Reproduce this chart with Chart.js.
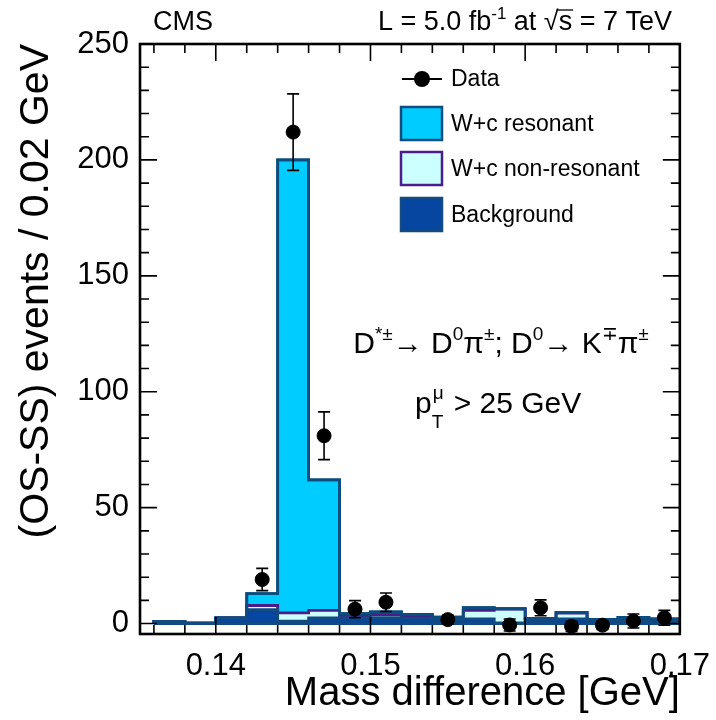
<!DOCTYPE html>
<html lang="en">
<head>
  <meta charset="UTF-8" />
  <title>D* mass difference, W+c</title>
  <script src="https://cdn.jsdelivr.net/npm/chart.js"></script>
  <style>
    body { margin: 0; background: #fff; }
    .wrap { width: 716px; height: 720px; }
  </style>
</head>
<body>
  <div class="wrap"><canvas id="massChart" width="716" height="720"></canvas></div>

  <script>
    // histogram binning (GeV)
    const binEdges = [0.136, 0.138, 0.140, 0.142, 0.144, 0.146, 0.148, 0.150, 0.152,
                      0.154, 0.156, 0.158, 0.160, 0.162, 0.164, 0.166, 0.168, 0.170];
    // stacked components, events per bin
    const background  = [0.8, 0.2, 2.4, 6.0, 1.0, 2.4, 2.4, 2.5, 2.3, 1.8, 2.0, 0.3, 1.8, 2.0, 1.5, 1.1, 1.6];
    const nonResonant = [0.0, 0.0, 0.0, 1.8, 3.6, 3.3, 0.7, 1.4, 0.7, 0.5, 3.7, 5.9, 0.2, 2.5, 0.2, 0.4, 0.2];
    const resonant    = [0.1, 0.0, 0.0, 5.1, 195.4, 56.3, 1.2, 1.1, 1.0, 0.5, 1.2, 0.2, 0.2, 0.3, 0.1, 1.2, 0.2];

    // data points with errors
    const dataX   = [0.143, 0.145, 0.147, 0.149, 0.151, 0.155, 0.159, 0.161, 0.163, 0.165, 0.167, 0.169];
    const dataY   = [19, 212, 81, 6.2, 9.2, 1.7, -0.6, 6.8, -1.2, -0.7, 1.1, 2.5];
    const dataErr = [4.8, 16.5, 10.3, 3.7, 4.0, 2.0, 2.6, 3.4, 2.2, 1.8, 3.0, 3.2];

    // axes
    const xTicks = [0.14, 0.15, 0.16, 0.17];
    const xMinorTicks = [0.136, 0.138, 0.142, 0.144, 0.146, 0.148, 0.152, 0.154, 0.156, 0.158,
                         0.162, 0.164, 0.166, 0.168];
    const yTicks = [0, 50, 100, 150, 200, 250];
    const yMinorTicks = [10, 20, 30, 40, 60, 70, 80, 90, 110, 120, 130, 140, 160, 170, 180, 190,
                         210, 220, 230, 240];
    const legendLabels = ['Data', 'W+c resonant', 'W+c non-resonant', 'Background'];

    const FONT = '"Liberation Sans", Arial, Helvetica, sans-serif';
    const col = {
      res: '#00ccff', resLine: '#0b4d7e',
      non: '#ccffff', nonLine: '#4b1d8a',
      bkg: '#0645a0', bkgLine: '#134a7f'
    };

    const cumNon = background.map((b, i) => b + nonResonant[i]);
    const cumAll = cumNon.map((c, i) => c + resonant[i]);

    // step outline from the bin edges, closed down to zero at both ends
    function stepPoints(values) {
      const last = binEdges.length - 1;
      const pts = [{ x: binEdges[0], y: 0 }];
      values.forEach((v, i) => pts.push({ x: binEdges[i], y: v }));
      pts.push({ x: binEdges[last], y: values[values.length - 1] });
      pts.push({ x: binEdges[last], y: 0 });
      return pts;
    }

    function histSet(label, values, fillColor, lineColor) {
      return {
        label: label,
        data: stepPoints(values),
        stepped: true,
        fill: fillColor ? 'origin' : false,
        backgroundColor: fillColor || 'transparent',
        borderColor: lineColor,
        borderWidth: 2.8,
        pointRadius: 0,
        tension: 0
      };
    }

    // text with super/subscripts: parts = [[text, 'sup'|'sub'|null], ...]
    function richWidth(ctx, parts, size) {
      let w = 0;
      parts.forEach(([t, m]) => {
        ctx.font = (m ? Math.round(size * 0.62) : size) + 'px ' + FONT;
        w += ctx.measureText(t).width;
      });
      return w;
    }
    function drawRich(ctx, parts, x, y, size) {
      parts.forEach(([t, m]) => {
        const s = m ? Math.round(size * 0.62) : size;
        ctx.font = s + 'px ' + FONT;
        const dy = m === 'sup' ? -size * 0.42 : (m === 'sub' ? size * 0.28 : 0);
        ctx.fillText(t, x, y + dy);
        x += ctx.measureText(t).width;
      });
      return x;
    }

    const rootStyle = {
      id: 'rootStyle',
      beforeDatasetDraw(chart, args) {
        if (args.index !== 0) return;
        const { ctx, scales: { x, y } } = chart;
        ctx.save();
        ctx.strokeStyle = '#000';
        ctx.lineWidth = 1.6;
        dataX.forEach((v, i) => {
          const px = x.getPixelForValue(v);
          const top = y.getPixelForValue(dataY[i] + dataErr[i]);
          const bot = y.getPixelForValue(dataY[i] - dataErr[i]);
          ctx.beginPath();
          ctx.moveTo(px, top); ctx.lineTo(px, bot);
          ctx.moveTo(px - 6, top); ctx.lineTo(px + 6, top);
          ctx.moveTo(px - 6, bot); ctx.lineTo(px + 6, bot);
          ctx.stroke();
        });
        ctx.restore();
      },
      afterDatasetsDraw(chart) {
        const { ctx, chartArea: a, scales: { x, y } } = chart;
        ctx.save();
        ctx.strokeStyle = '#000';
        ctx.lineWidth = 1.6;
        ctx.beginPath();
        const tick = (vals, len, horiz) => vals.forEach(v => {
          if (horiz) {
            const px = x.getPixelForValue(v);
            ctx.moveTo(px, a.bottom); ctx.lineTo(px, a.bottom - len);
            ctx.moveTo(px, a.top); ctx.lineTo(px, a.top + len);
          } else {
            const py = y.getPixelForValue(v);
            ctx.moveTo(a.left, py); ctx.lineTo(a.left + len, py);
            ctx.moveTo(a.right, py); ctx.lineTo(a.right - len, py);
          }
        });
        tick(xTicks, 17, true);
        tick(xMinorTicks, 9, true);
        tick(yTicks, 17, false);
        tick(yMinorTicks, 9, false);
        ctx.stroke();
        ctx.lineWidth = 2.6;
        ctx.strokeRect(a.left, a.top, a.right - a.left, a.bottom - a.top);
        ctx.restore();
      },
      afterDraw(chart) {
        const { ctx } = chart;
        ctx.save();
        ctx.fillStyle = '#000';
        ctx.textBaseline = 'alphabetic';
        ctx.textAlign = 'left';

        // header
        ctx.font = '27px ' + FONT;
        ctx.fillText('CMS', 153, 30);
        const lumi = [['L = 5.0 fb', null], ['-1', 'sup'], [' at ', null]];
        const tail = [[' = 7 TeV', null]];
        ctx.font = '27px ' + FONT;
        const wRoot = ctx.measureText('\u221As').width;
        let lx = 672 - richWidth(ctx, lumi, 27) - wRoot - richWidth(ctx, tail, 27);
        lx = drawRich(ctx, lumi, lx, 30, 27);
        ctx.font = '27px ' + FONT;
        ctx.fillText('\u221A', lx, 30);
        const wr = ctx.measureText('\u221A').width;
        ctx.fillText('s', lx + wr, 30);
        const ws = ctx.measureText('s').width;
        ctx.lineWidth = 1.3;
        ctx.beginPath();
        ctx.moveTo(lx + wr - 2, 10); ctx.lineTo(lx + wr + ws + 1, 10);
        ctx.stroke();
        drawRich(ctx, tail, lx + wr + ws, 30, 27);

        // legend
        const lgX = 401, lgT = 451;
        ctx.font = '23px ' + FONT;
        ctx.textBaseline = 'middle';
        ctx.lineWidth = 2;
        ctx.beginPath(); ctx.moveTo(lgX + 1, 79); ctx.lineTo(lgX + 41, 79); ctx.stroke();
        ctx.beginPath(); ctx.arc(lgX + 21, 79, 8, 0, Math.PI * 2); ctx.fill();
        ctx.fillText(legendLabels[0], lgT, 80);
        const boxes = [[col.res, col.resLine, 107], [col.non, col.nonLine, 152], [col.bkg, col.bkgLine, 198]];
        boxes.forEach(([f, s, top], i) => {
          ctx.fillStyle = f;
          ctx.fillRect(lgX, top, 41, 33);
          ctx.strokeStyle = s;
          ctx.lineWidth = 2.5;
          ctx.strokeRect(lgX, top, 41, 33);
          ctx.fillStyle = '#000';
          ctx.fillText(legendLabels[i + 1], lgT, top + 18);
        });

        // decay channel and muon cut
        ctx.textBaseline = 'alphabetic';
        ctx.strokeStyle = '#000';
        const decay = [['D', null], ['*\u00B1', 'sup'], ['\u2192 D', null], ['0', 'sup'], ['\u03C0', null],
                       ['\u00B1', 'sup'], ['; D', null], ['0', 'sup'], ['\u2192 K', null], ['\u2213', 'sup'],
                       ['\u03C0', null], ['\u00B1', 'sup']];
        const dw = richWidth(ctx, decay, 30);
        drawRich(ctx, decay, 501 - dw / 2, 353, 30);

        ctx.font = '30px ' + FONT;
        const px0 = 415;
        ctx.fillText('p', px0, 413);
        const pw = ctx.measureText('p').width;
        ctx.font = '19px ' + FONT;
        ctx.fillText('\u03BC', px0 + pw + 1, 399);
        ctx.fillText('T', px0 + pw, 428);
        const iw = Math.max(ctx.measureText('\u03BC').width, ctx.measureText('T').width);
        ctx.font = '30px ' + FONT;
        ctx.fillText(' > 25 GeV', px0 + pw + iw + 2, 413);
        ctx.restore();
      }
    };

    const ctx = document.getElementById('massChart').getContext('2d');
    const massChart = new Chart(ctx, {
      type: 'line',
      data: {
        datasets: [
          {
            label: legendLabels[0],
            data: dataX.map((v, i) => ({ x: v, y: dataY[i] })),
            showLine: false,
            pointRadius: 7,
            pointBackgroundColor: '#000',
            pointBorderColor: '#000',
            clip: 10
          },
          {
            label: 'zero',
            data: [{ x: binEdges[0], y: 0 }, { x: binEdges[binEdges.length - 1], y: 0 }],
            borderColor: col.bkgLine,
            borderWidth: 2.8,
            pointRadius: 0,
            fill: false
          },
          histSet(legendLabels[3], background, col.bkg, col.bkgLine),
          // outline of the full stack kept on top of the non-resonant fill
          histSet('stack outline', cumAll, null, col.resLine),
          histSet(legendLabels[2], cumNon, col.non, col.nonLine),
          histSet(legendLabels[1], cumAll, col.res, col.resLine)
        ]
      },
      options: {
        responsive: false,
        animation: false,
        layout: { padding: { top: 44, right: 30, left: 0, bottom: 0 } },
        plugins: { legend: { display: false }, tooltip: { enabled: false } },
        scales: {
          x: {
            type: 'linear',
            min: 0.1351,
            max: 0.170,
            grid: { display: false },
            border: { display: false },
            afterBuildTicks: s => { s.ticks = xTicks.map(v => ({ value: v })); },
            afterFit: s => { s.height = 86; },
            ticks: {
              autoSkip: false, maxRotation: 0, padding: 6, color: '#000',
              font: { family: FONT, size: 31 },
              callback: v => v.toFixed(2)
            },
            title: {
              display: true, text: 'Mass difference [GeV]', align: 'end', color: '#000',
              font: { family: FONT, size: 40 }, padding: { top: 0, bottom: 2 }
            }
          },
          y: {
            min: -4.5,
            max: 250,
            grid: { display: false },
            border: { display: false },
            afterBuildTicks: s => { s.ticks = yTicks.map(v => ({ value: v })); },
            afterFit: s => { s.width = 140; },
            ticks: {
              autoSkip: false, padding: 3, color: '#000',
              font: { family: FONT, size: 31 }
            },
            title: {
              display: true, text: '(OS-SS) events / 0.02 GeV', align: 'end', color: '#000',
              font: { family: FONT, size: 41 }, padding: { top: 12, bottom: 0 }
            }
          }
        }
      },
      plugins: [rootStyle]
    });
  </script>
</body>
</html>
